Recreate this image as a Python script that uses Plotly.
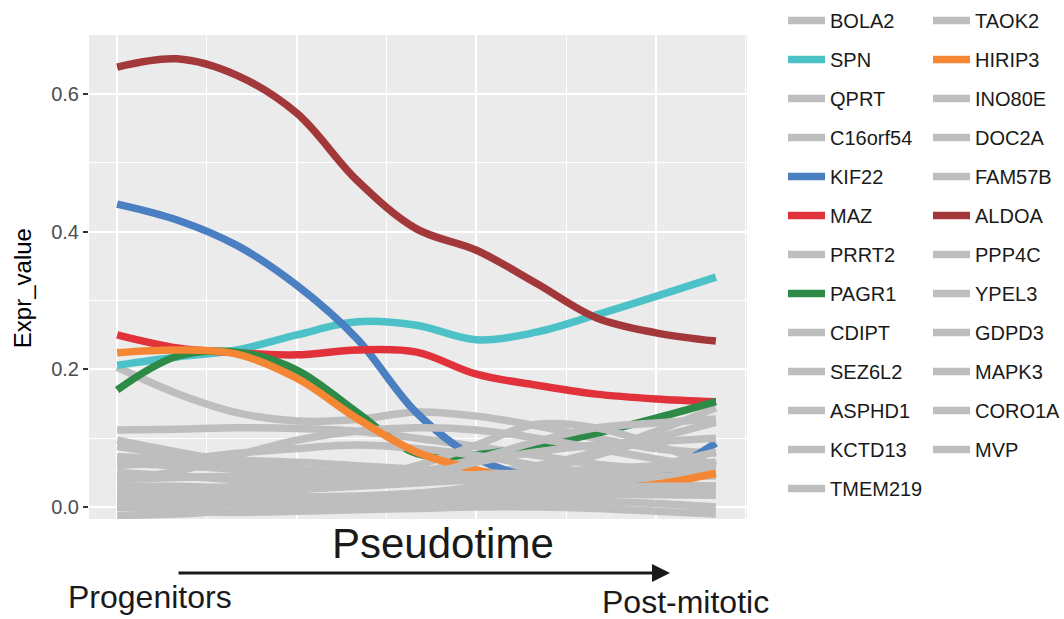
import plotly.graph_objects as go

# Pseudotime grid (normalised 0..1) and smoothed expression per gene
pseudotime = [0.0, 0.1, 0.2, 0.3, 0.4, 0.5, 0.6, 0.7, 0.8, 0.9, 1.0]

legend_col1 = ["BOLA2", "SPN", "QPRT", "C16orf54", "KIF22", "MAZ", "PRRT2",
               "PAGR1", "CDIPT", "SEZ6L2", "ASPHD1", "KCTD13", "TMEM219"]
legend_col2 = ["TAOK2", "HIRIP3", "INO80E", "DOC2A", "FAM57B", "ALDOA",
               "PPP4C", "YPEL3", "GDPD3", "MAPK3", "CORO1A", "MVP"]

BOLA2 = [0.203, 0.165, 0.137, 0.125, 0.127, 0.138, 0.132, 0.118, 0.100, 0.085, 0.078]
SPN = [0.206, 0.218, 0.228, 0.250, 0.269, 0.264, 0.243, 0.254, 0.279, 0.306, 0.334]
QPRT = [0.112, 0.113, 0.115, 0.114, 0.110, 0.100, 0.088, 0.075, 0.062, 0.055, 0.052]
C16orf54 = [0.097, 0.080, 0.065, 0.055, 0.050, 0.048, 0.050, 0.060, 0.080, 0.110, 0.144]
KIF22 = [0.440, 0.417, 0.380, 0.322, 0.245, 0.137, 0.071, 0.042, 0.035, 0.046, 0.093]
MAZ = [0.250, 0.231, 0.224, 0.221, 0.228, 0.225, 0.193, 0.177, 0.164, 0.157, 0.153]
PRRT2 = [0.073, 0.070, 0.068, 0.065, 0.060, 0.055, 0.050, 0.047, 0.045, 0.045, 0.045]
PAGR1 = [0.170, 0.219, 0.225, 0.199, 0.138, 0.078, 0.076, 0.089, 0.107, 0.129, 0.153]
CDIPT = [0.060, 0.068, 0.078, 0.085, 0.090, 0.085, 0.075, 0.060, 0.045, 0.035, 0.030]
SEZ6L2 = [0.040, 0.052, 0.075, 0.097, 0.110, 0.115, 0.112, 0.100, 0.085, 0.070, 0.055]
ASPHD1 = [0.020, 0.025, 0.030, 0.035, 0.040, 0.050, 0.070, 0.095, 0.115, 0.122, 0.128]
KCTD13 = [0.005, 0.008, 0.010, 0.012, 0.015, 0.020, 0.030, 0.050, 0.075, 0.100, 0.123]
TMEM219 = [0.088, 0.075, 0.062, 0.052, 0.045, 0.040, 0.038, 0.036, 0.035, 0.033, 0.030]
TAOK2 = [0.050, 0.045, 0.040, 0.038, 0.040, 0.060, 0.090, 0.120, 0.115, 0.090, 0.060]
HIRIP3 = [0.224, 0.228, 0.222, 0.187, 0.129, 0.080, 0.054, 0.036, 0.026, 0.033, 0.049]
INO80E = [0.030, 0.030, 0.028, 0.030, 0.035, 0.045, 0.065, 0.080, 0.090, 0.095, 0.100]
DOC2A = [0.000, 0.002, 0.005, 0.008, 0.012, 0.018, 0.022, 0.025, 0.028, 0.030, 0.030]
FAM57B = [-0.012, -0.010, -0.005, 0.000, 0.005, 0.008, 0.010, 0.010, 0.008, 0.005, 0.000]
ALDOA = [0.639, 0.651, 0.627, 0.572, 0.475, 0.404, 0.373, 0.325, 0.275, 0.253, 0.241]
PPP4C = [0.010, 0.015, 0.020, 0.025, 0.030, 0.035, 0.040, 0.045, 0.050, 0.055, 0.060]
YPEL3 = [0.012, 0.010, 0.008, 0.008, 0.010, 0.012, 0.015, 0.017, 0.018, 0.018, 0.017]
GDPD3 = [0.064, 0.060, 0.055, 0.050, 0.048, 0.045, 0.042, 0.040, 0.045, 0.060, 0.080]
MAPK3 = [0.020, 0.018, 0.016, 0.015, 0.016, 0.020, 0.025, 0.030, 0.030, 0.028, 0.025]
CORO1A = [0.000, -0.005, -0.008, -0.006, -0.004, -0.002, 0.000, 0.000, -0.002, -0.006, -0.010]
MVP = [0.040, 0.043, 0.045, 0.046, 0.045, 0.045, 0.047, 0.050, 0.055, 0.060, 0.065]

expr = {
    "BOLA2": BOLA2, "SPN": SPN, "QPRT": QPRT, "C16orf54": C16orf54, "KIF22": KIF22,
    "MAZ": MAZ, "PRRT2": PRRT2, "PAGR1": PAGR1, "CDIPT": CDIPT, "SEZ6L2": SEZ6L2,
    "ASPHD1": ASPHD1, "KCTD13": KCTD13, "TMEM219": TMEM219, "TAOK2": TAOK2,
    "HIRIP3": HIRIP3, "INO80E": INO80E, "DOC2A": DOC2A, "FAM57B": FAM57B,
    "ALDOA": ALDOA, "PPP4C": PPP4C, "YPEL3": YPEL3, "GDPD3": GDPD3,
    "MAPK3": MAPK3, "CORO1A": CORO1A, "MVP": MVP,
}

highlight = {
    "SPN": "#4cc2c8", "KIF22": "#4a7fc1", "MAZ": "#e1323b",
    "PAGR1": "#2e8b47", "HIRIP3": "#f58634", "ALDOA": "#a3383a",
}
GREY = "#bebebe"
FONT = "Liberation Sans, Arial, sans-serif"

fig = go.Figure()
for col, legend_id in ((legend_col1, "legend"), (legend_col2, "legend2")):
    for gene in col:
        fig.add_trace(go.Scatter(
            x=pseudotime, y=expr[gene], name=gene, mode="lines",
            line=dict(color=highlight.get(gene, GREY), width=7.5, shape="spline", smoothing=1.0),
            legend=legend_id, legendgroup=gene, hoverinfo="name+y",
        ))

legend_style = dict(
    xref="container", yref="container", xanchor="left", yanchor="top",
    bgcolor="rgba(0,0,0,0)", font=dict(family=FONT, size=20, color="#1a1a1a"),
    tracegroupgap=10, itemwidth=37, maxheight=619,
)

fig.update_layout(
    width=1064, height=619,
    margin=dict(l=89, r=317, t=35, b=100),
    paper_bgcolor="white", plot_bgcolor="#ebebeb",
    font=dict(family=FONT),
    legend=dict(x=783 / 1064, y=1 - 1 / 619, **legend_style),
    legend2=dict(x=928 / 1064, y=1 - 1 / 619, **legend_style),
    xaxis=dict(
        range=[-0.047, 1.052], tickvals=[0, 0.3, 0.6, 0.9], showticklabels=False,
        ticks="", showgrid=True, gridcolor="white", gridwidth=1.6, zeroline=False,
        minor=dict(tickvals=[0.15, 0.45, 0.75, 1.05], showgrid=True, gridcolor="white", gridwidth=0.8),
    ),
    yaxis=dict(
        range=[-0.0174, 0.6856], tickvals=[0, 0.2, 0.4, 0.6],
        ticktext=["0.0", "0.2", "0.4", "0.6"],
        ticks="outside", ticklen=5, tickwidth=2, tickcolor="#333333",
        tickfont=dict(family=FONT, size=20, color="#4d4d4d"),
        showgrid=True, gridcolor="white", gridwidth=1.6, zeroline=False,
        minor=dict(tickvals=[0.1, 0.3, 0.5], showgrid=True, gridcolor="white", gridwidth=0.8),
    ),
    showlegend=True,
)

# Y-axis title
fig.add_annotation(text="Expr_value", xref="paper", yref="paper", x=-0.1018, y=0.477,
                   xanchor="center", yanchor="middle", textangle=-90, showarrow=False,
                   font=dict(family=FONT, size=24, color="black"))

# Axis caption and developmental direction arrow below the panel
fig.add_annotation(text="Pseudotime", xref="paper", yref="paper", x=0.538, y=-0.05,
                   xanchor="center", yanchor="middle", showarrow=False,
                   font=dict(family=FONT, size=42, color="#1a1a1a"))
fig.add_annotation(text="", xref="paper", yref="paper", x=0.883, y=-0.1116,
                   ax=-493, ay=0, axref="pixel", ayref="pixel",
                   showarrow=True, arrowhead=2, arrowsize=1.2, arrowwidth=3, arrowcolor="#1a1a1a")
fig.add_annotation(text="Progenitors", xref="paper", yref="paper", x=0.0927, y=-0.161,
                   xanchor="center", yanchor="middle", showarrow=False,
                   font=dict(family=FONT, size=32, color="#1a1a1a"))
fig.add_annotation(text="Post-mitotic", xref="paper", yref="paper", x=0.906, y=-0.171,
                   xanchor="center", yanchor="middle", showarrow=False,
                   font=dict(family=FONT, size=32, color="#1a1a1a"))

fig.write_html("out.html")
